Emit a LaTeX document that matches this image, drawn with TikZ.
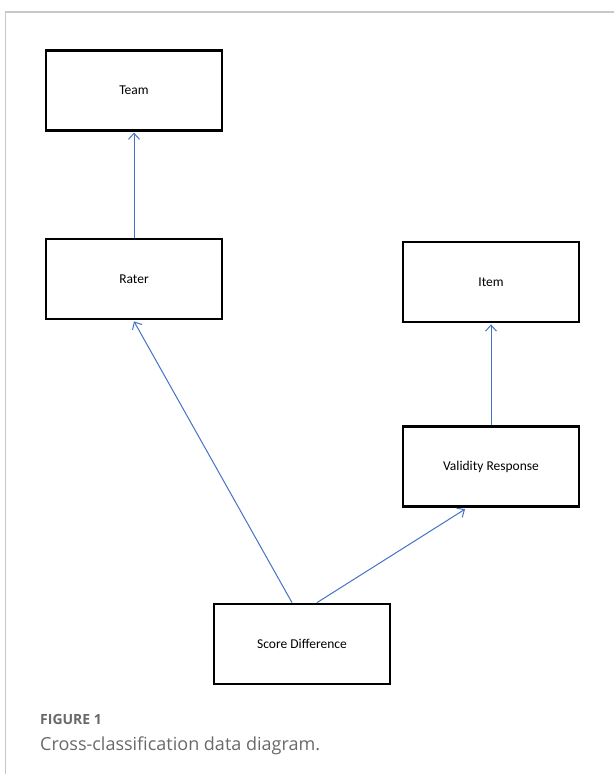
\documentclass[tikz,border=0pt]{standalone}
\usepackage{fontspec}
\setmainfont{Carlito}
\newfontfamily\capfont{Open Sans}
\usetikzlibrary{shapes.geometric, arrows.meta}
\usetikzlibrary{positioning}
\definecolor{linkblue}{RGB}{68,114,196}
\definecolor{capgray}{RGB}{105,105,105}
\definecolor{framegray}{RGB}{200,200,200}
\tikzstyle{entity} = [rectangle, minimum width=176pt, minimum height=80pt, text centered,
line width=2.8pt, draw=black, font=\fontsize{13.5}{16}\selectfont]
\tikzstyle{arrow} = [linkblue, line width=1pt, -{Straight Barb[length=6pt,width=11pt]}]
\tikzstyle{caption} = [anchor=base west, inner sep=0pt, text=capgray]

\begin{document}
\begin{tikzpicture}[x=1pt, y=1pt]
    \useasboundingbox (0,0) rectangle (614,-774);
    \draw[framegray, line width=1.3pt] (614,-12) -- (5.5,-12) -- (5.5,-774);

    \node (rater) [entity] at (134,-279) {Rater};
    \node (team) [entity, above=106pt of rater] {Team};
    \node (item) [entity] at (491,-282) {Item};
    \node (valid) [entity, below=102pt of item] {Validity Response};
    \node (score) [entity] at (302,-644) {Score Difference};

    \draw[arrow] (rater) -- ([yshift=-1pt]team.south);
    \draw[arrow] (valid) -- ([yshift=-1pt]item.south);
    \draw[arrow] ([xshift=-10pt]score.north) -- ([yshift=-1pt]rater.south);
    \draw[arrow] ([xshift=15pt]score.north) -- ([xshift=-26pt,yshift=-1pt]valid.south);

    \node (fignum) [caption, font=\capfont\bfseries\fontsize{14}{16}\selectfont] at (40,-724) {FIGURE 1};
    \node (figtext) [caption, font=\capfont\fontsize{18}{21}\selectfont] at (40,-750) {Cross-classification data diagram.};
\end{tikzpicture}
\end{document}
